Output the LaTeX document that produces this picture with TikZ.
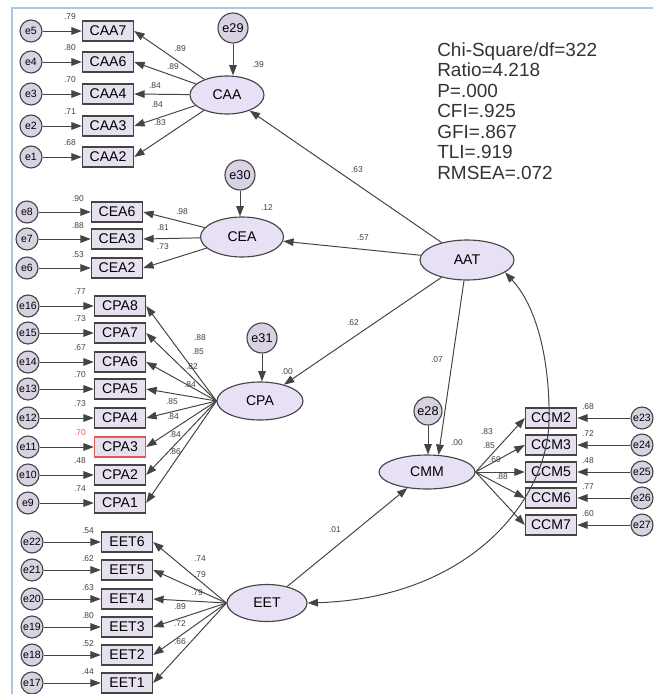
\documentclass[tikz,border=0pt]{standalone}
\usepackage{fontspec}
\setmainfont{Liberation Sans}
\usetikzlibrary{positioning,arrows.meta,shapes.geometric}

\definecolor{latfill}{HTML}{E8E0F5}
\definecolor{obsfill}{HTML}{E6E0EF}
\definecolor{errfill}{HTML}{D8D2E2}
\definecolor{edgec}{HTML}{444444}
\definecolor{framec}{HTML}{A8C7E8}
\definecolor{badc}{HTML}{E05A5A}

\begin{document}
\begin{tikzpicture}[x=0.25mm,y=-0.25mm,
  latent/.style={ellipse,draw=edgec,line width=0.8pt,fill=latfill,inner sep=0pt,font=\fontsize{10}{10}\selectfont},
  obs/.style={rectangle,draw=edgec,line width=1pt,fill=obsfill,minimum width=12.75mm,minimum height=5mm,inner sep=0pt,font=\fontsize{10}{10}\selectfont},
  err/.style={circle,draw=edgec,line width=0.8pt,fill=errfill,minimum size=5.5mm,inner sep=0pt,font=\fontsize{7.5}{7.5}\selectfont},
  dist/.style={err,minimum size=7.5mm,font=\fontsize{9}{9}\selectfont},
  lbl/.style={font=\fontsize{6}{6}\selectfont,text=black!75,inner sep=0.5pt},
  reg/.style={draw=edgec,line width=0.7pt,-{Triangle[length=2.6mm,width=1.9mm]}},
  cov/.style={draw=edgec,line width=0.7pt,{Triangle[length=2.6mm,width=1.9mm]}-{Triangle[length=2.6mm,width=1.9mm]}}]
\useasboundingbox (0,0) rectangle (653,694);
\draw[framec,line width=0.8pt] (12,694) -- (12,8) -- (653,8);

% latent variables
\node[latent,minimum width=18.5mm,minimum height=9.5mm] (CAA) at (227,95) {CAA};
\node[latent,minimum width=20.75mm,minimum height=10mm] (CEA) at (242,237) {CEA};
\node[latent,minimum width=21.5mm,minimum height=9.5mm] (CPA) at (260,401) {CPA};
\node[latent,minimum width=23.5mm,minimum height=10mm] (AAT) at (467,260) {AAT};
\node[latent,minimum width=24mm,minimum height=8.5mm] (CMM) at (427,472) {CMM};
\node[latent,minimum width=20mm,minimum height=9.25mm] (EET) at (267,603) {EET};

% disturbances
\node[dist] (e29) at (233,28) {e29};
\node[dist] (e30) at (240,175) {e30};
\node[dist] (e31) at (262,338) {e31};
\node[dist,minimum size=7mm] (e28) at (428,411) {e28};
\draw[reg] (e29) -- (e29 |- CAA.north);
\draw[reg] (e30) -- (e30 |- CEA.north);
\draw[reg] (e31) -- (e31 |- CPA.north);
\draw[reg] (e28) -- (e28 |- CMM.north);
\node[lbl] (r29) at (258,65) {.39};
\node[lbl] (r30) at (267,208) {.12};
\node[lbl] (r31) at (287,372) {.00};
\node[lbl] (r28) at (457,443) {.00};

% CAA indicators
\foreach \nm/\y/\e/\r in {CAA7/31/e5/.79,CAA6/62/e4/.80,CAA4/94/e3/.70,CAA3/126/e2/.71,CAA2/157/e1/.68}{
  \node[obs] (\nm) at (108,\y) {\nm};
  \node[err] (\e) at (31,\y) {\e};
  \draw[reg] (\e) -- (\nm);
  \node[lbl] (r\nm) at (70,\y-14) {\r};
}
\foreach \nm/\t/\x/\y in {CAA7/.89/180/49,CAA6/.89/173/67,CAA4/.84/155/86,CAA3/.84/157/105,CAA2/.83/160/123}{
  \draw[reg] (CAA) -- (\nm.east);
  \node[lbl] (l\nm) at (\x,\y) {\t};
}

% CEA indicators
\foreach \nm/\y/\e/\r in {CEA6/212/e8/.90,CEA3/239/e7/.88,CEA2/268/e6/.53}{
  \node[obs] (\nm) at (117,\y) {\nm};
  \node[err] (\e) at (27,\y) {\e};
  \draw[reg] (\e) -- (\nm);
  \node[lbl] (r\nm) at (78,\y-13) {\r};
}
\foreach \nm/\t/\x/\y in {CEA6/.98/182/212,CEA3/.81/163/228,CEA2/.73/163/247}{
  \draw[reg] (CEA) -- (\nm.east);
  \node[lbl] (l\nm) at (\x,\y) {\t};
}

% CPA indicators (CPA3 flagged in red)
\foreach \nm/\y/\e/\r/\c in {CPA8/306/e16/.77/edgec,CPA7/333/e15/.73/edgec,CPA6/362/e14/.67/edgec,CPA5/389/e13/.70/edgec,
    CPA4/418/e12/.73/edgec,CPA3/447/e11/.70/badc,CPA2/475/e10/.48/edgec,CPA1/503/e9/.74/edgec}{
  \node[obs,draw=\c] (\nm) at (120,\y) {\nm};
  \node[err] (\e) at (28,\y) {\e};
  \draw[reg] (\e) -- (\nm);
  \node[lbl,text=\c] (r\nm) at (80,\y-14) {\r};
}
\foreach \nm/\t/\x/\y in {CPA8/.88/200/338,CPA7/.85/198/352,CPA6/.82/192/367,CPA5/.84/190/385,
    CPA4/.85/172/402,CPA3/.84/173/417,CPA2/.84/175/435,CPA1/.86/175/452}{
  \draw[reg] (CPA.west) -- (\nm.east);
  \node[lbl] (l\nm) at (\x,\y) {\t};
}

% EET indicators
\foreach \nm/\y/\e/\r in {EET6/542/e22/.54,EET5/570/e21/.62,EET4/599/e20/.63,EET3/627/e19/.80,EET2/655/e18/.52,EET1/683/e17/.44}{
  \node[obs] (\nm) at (127,\y) {\nm};
  \node[err] (\e) at (32,\y) {\e};
  \draw[reg] (\e) -- (\nm);
  \node[lbl] (r\nm) at (88,\y-11) {\r};
}
\foreach \nm/\t/\x/\y in {EET6/.74/200/559,EET5/.79/200/575,EET4/.79/197/593,EET3/.89/180/607,EET2/.72/180/624,EET1/.66/180/642}{
  \draw[reg] (EET.west) -- (\nm.east);
  \node[lbl] (l\nm) at (\x,\y) {\t};
}

% CMM indicators, errors on the right edge
\foreach \nm/\y/\e/\r in {CCM2/418/e23/.68,CCM3/445/e24/.72,CCM5/472/e25/.48,CCM6/498/e26/.77,CCM7/525/e27/.60}{
  \node[obs] (\nm) at (551,\y) {\nm};
  \node[err] (\e) at (642,\y) {\e};
  \draw[reg] (\e) -- (\nm);
  \node[lbl] (r\nm) at (588,\y-11) {\r};
  \draw[reg] (CMM.east) -- (\nm.west);
}
\foreach \nm/\t/\x/\y in {CCM2/.83/487/432,CCM3/.85/489/446,CCM5/.69/495/460,CCM6/.88/502/477}{
  \node[lbl] (l\nm) at (\x,\y) {\t};
}

% structural paths
\draw[reg] (AAT) -- (CAA);
\draw[reg] (AAT) -- (CEA);
\draw[reg] (AAT) -- (CPA);
\draw[reg] (AAT) -- (CMM.56);
\draw[reg] (EET) -- (CMM);
\draw[cov] (AAT.-18) .. controls (540,310) and (550,370) .. (549,420)
  .. controls (548,500) and (470,598) .. (EET.east);
\node[lbl] (pCAA) at (357,170) {.63};
\node[lbl] (pCEA) at (363,238) {.57};
\node[lbl] (pCPA) at (353,323) {.62};
\node[lbl] (pCMM) at (437,360) {.07};
\node[lbl] (pEET) at (335,530) {.01};

% fit indices
\node[anchor=north west,align=left,inner sep=0pt,text=black!80,font=\fontsize{13.5}{14.6}\selectfont] (fitidx) at (437,42)
  {Chi-Square/df=322\\Ratio=4.218\\P=.000\\CFI=.925\\GFI=.867\\TLI=.919\\RMSEA=.072};
\end{tikzpicture}
\end{document}
